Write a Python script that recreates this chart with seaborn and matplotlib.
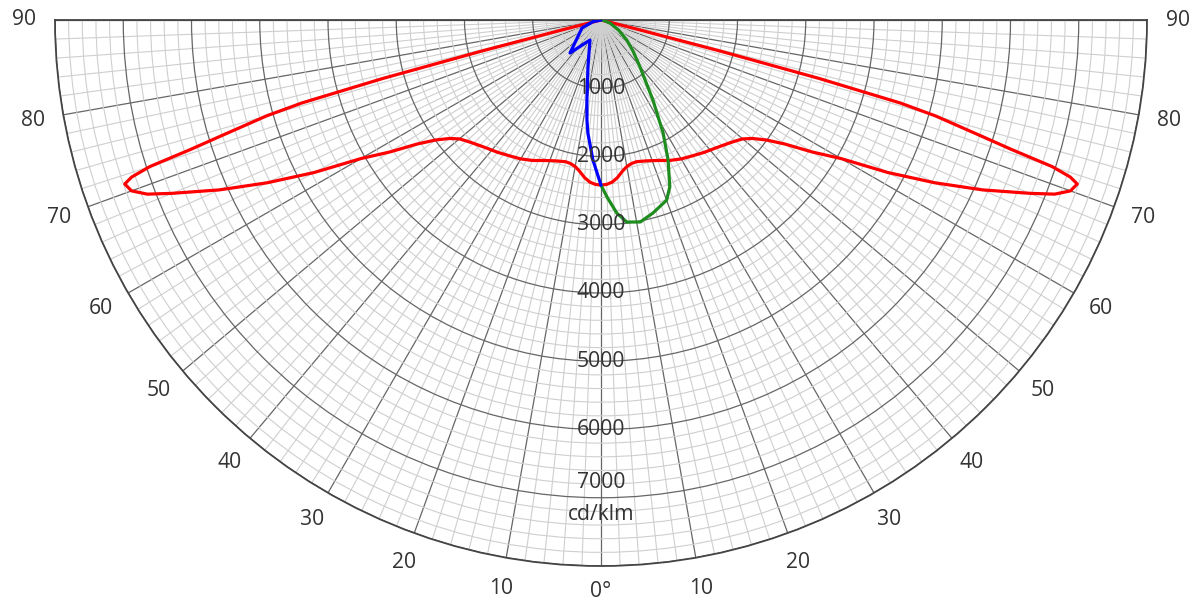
import numpy as np
import pandas as pd
import matplotlib
matplotlib.use("Agg")
import matplotlib.pyplot as plt
import seaborn as sns

# ---- data (degrees from nadir, cd/klm) ----
red_angle = [0, 2, 4, 6, 8, 10, 12, 14, 18, 22, 26, 30, 34, 38, 42, 46, 48, 50,
             52, 54, 56, 58, 60, 62, 64, 66, 68, 69, 70, 71, 71.5, 72, 72.5, 73,
             73.5, 74, 74.5, 75, 75.4, 75.8, 76.5, 80, 90]
red_value = [2420, 2410, 2380, 2320, 2240, 2180, 2150, 2140, 2170, 2220, 2290,
             2350, 2400, 2460, 2520, 2600, 2650, 2710, 2820, 2990, 3250, 3650,
             4060, 4760, 5440, 6120, 6780, 7120, 7320, 7380, 7250, 6950, 6300,
             5850, 5450, 5100, 4550, 3300, 1800, 500, 0, 0, 0]

green_angle = [0, 2, 4.7, 7.3, 11, 15, 20, 22.4, 25.6, 28.8, 33, 39.7, 46, 52,
               60, 70, 80, 90]
green_value = [2420, 2600, 2840, 2985, 3015, 2930, 2810, 2645, 2275, 1890, 1395,
               895, 650, 480, 300, 150, 50, 0]

blue_angle = [0, -3.3, -6.6, -8, -10, -15.5, -20, -28.8, -38.4, -43.2, -50.6,
              -67.2, -78, -90]
blue_value = [2420, 2055, 1670, 1480, 1190, 715, 515, 335, 495, 663, 474,
              302, 120, 0]

angle_ticks = [0, 10, 20, 30, 40, 50, 60, 70, 80, 90]
radial_ticks = [1000, 2000, 3000, 4000, 5000, 6000, 7000]
r_max = 8000
unit_label = "cd/klm"

sns.set_style("white")
plt.rcParams['font.family'] = ['Open Sans', 'DejaVu Sans']
FS = 15.2

fig = plt.figure(figsize=(11.94, 6.05), dpi=100)
# square box (wedge bbox is padded to a square); origin at pixel (601, 20)
ax = fig.add_axes([55 / 1194, -234 / 605, 1092 / 1194, 1092 / 605], projection='polar')
ax.set_theta_zero_location('S')
ax.set_thetamin(-90)
ax.set_thetamax(90)

# curves
red_full_a = [-a for a in red_angle[::-1]] + red_angle[1:]
red_full_v = red_value[::-1] + red_value[1:]
curves = [
    (red_full_a, red_full_v, '#ff0000'),
    (green_angle, green_value, '#1e8c1e'),
    (blue_angle, blue_value, '#0000ff'),
]
for ang, val, col in curves:
    df = pd.DataFrame({'theta': np.deg2rad(ang), 'r': val})
    sns.lineplot(data=df, x='theta', y='r', sort=False, estimator=None,
                 color=col, lw=2.3, ax=ax, zorder=5)

ax.set_xlabel('')
ax.set_ylabel('')
ax.set_ylim(0, r_max)

ax.set_xticks(np.deg2rad(np.arange(-90, 91, 10)))
ax.set_xticks(np.deg2rad(np.arange(-90, 91, 2)), minor=True)
ax.set_yticks(np.arange(1000, r_max + 1, 1000))
ax.set_yticks(np.arange(200, r_max + 1, 200), minor=True)
ax.set_xticklabels([])
ax.set_yticklabels([])
ax.tick_params(which='both', length=0)
ax.grid(True, which='major', color='#666666', lw=0.9, zorder=2)
ax.grid(True, which='minor', color='#cfcfcf', lw=0.8, zorder=1)
ax.set_axisbelow(True)
for name in ['polar', 'start', 'end']:
    ax.spines[name].set_color('#444444')
    ax.spines[name].set_linewidth(1.3)

# angle labels
lab_r = r_max * 1.057
for a in angle_ticks:
    if a == 0:
        ax.text(0, lab_r * 0.99, "0°", ha='center', va='center', fontsize=FS,
                color='#333333', clip_on=False)
    else:
        for s in (-1, 1):
            ax.text(np.deg2rad(s * a), lab_r, str(a), ha='center', va='center',
                    fontsize=FS, color='#333333', clip_on=False)

# radial labels
for v in radial_ticks:
    off = -15 if v == radial_ticks[-1] else 0
    ax.annotate(str(v), xy=(0, v), xytext=(0, -off * 0.72), textcoords='offset points',
                ha='center', va='center', fontsize=FS, color='#333333', zorder=6)
ax.annotate(unit_label, xy=(0, radial_ticks[-1]), xytext=(0, -17 * 0.72),
            textcoords='offset points', ha='center', va='center', fontsize=FS,
            color='#333333', zorder=6)

fig.savefig("out.png", dpi=100)
